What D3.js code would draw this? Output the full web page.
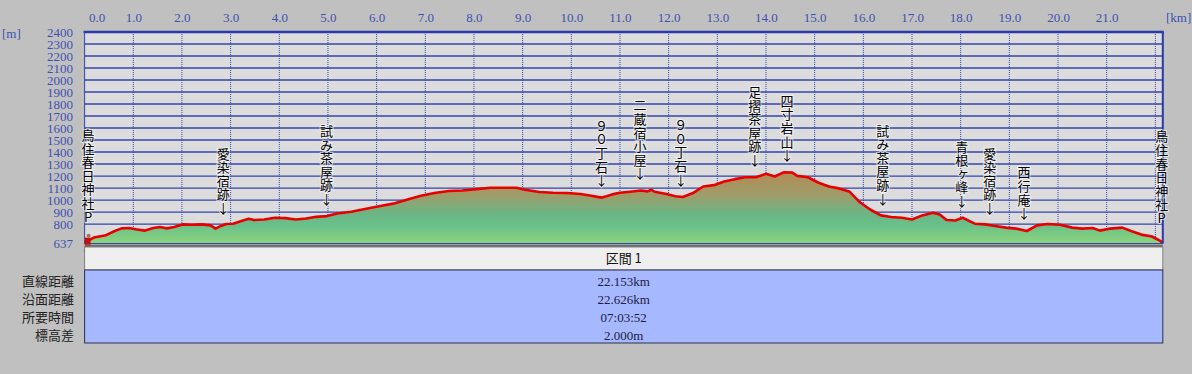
<!DOCTYPE html>
<html>
<head>
<meta charset="utf-8">
<script src="https://cdn.jsdelivr.net/npm/d3@7"></script>
<style>
  body { margin: 0; background: #c0c0c0; }
  svg { display: block; }
  .num { font-family: "Liberation Serif", serif; font-size: 13px; fill: #4050b0; }
  .mark { font-family: "Noto Sans CJK JP", sans-serif; font-size: 13px; fill: #000;
          writing-mode: vertical-rl; text-orientation: upright; }
</style>
</head>
<body>
<script>
// profile: distance [km] / elevation [m]
const profileKm = [0,0.19,0.44,0.62,0.76,0.91,1.05,1.23,1.41,1.55,
  1.69,1.84,2.01,2.19,2.41,2.59,2.69,2.80,2.91,3.05,
  3.19,3.37,3.48,3.69,3.91,4.12,4.34,4.55,4.76,4.98,
  5.19,5.48,5.76,6.05,6.34,6.62,6.91,7.19,7.48,7.76,
  8.05,8.34,8.62,8.87,9.05,9.34,9.62,9.91,10.19,10.41,
  10.62,10.84,11.0,11.21,11.43,11.57,11.64,11.71,11.93,12.14,
  12.29,12.5,12.71,12.93,13.14,13.36,13.57,13.79,14.0,14.18,
  14.36,14.54,14.64,14.86,15.07,15.29,15.5,15.71,15.93,16.14,
  16.36,16.57,16.79,17.0,17.21,17.43,17.57,17.71,17.89,18.04,
  18.14,18.29,18.5,18.71,18.93,19.14,19.36,19.57,19.79,20.04,
  20.29,20.5,20.71,20.86,21.07,21.32,21.5,21.71,21.93,22.11,
  22.153];
const profileElev = [645,687,707,742,764,767,756,745,767,775,
  764,775,797,794,797,789,762,784,800,803,
  822,844,833,838,852,849,838,846,860,866,
  888,902,926,948,970,1003,1036,1058,1075,1080,
  1091,1102,1102,1102,1086,1067,1061,1058,1050,1036,
  1020,1047,1060,1069,1080,1072,1086,1069,1053,1031,
  1025,1058,1113,1124,1154,1174,1190,1190,1218,1196,
  1231,1229,1201,1190,1146,1113,1097,1072,981,921,
  872,858,852,838,872,894,880,833,830,852,
  833,803,797,784,770,762,742,789,800,794,
  770,762,767,745,762,770,742,712,696,657,
  640];

// waypoints
const markNames = ["鳥住春日神社P","愛染宿跡","試み茶屋跡","９０丁石","二蔵宿小屋","９０丁石",
  "足摺茶屋跡","四寸岩山","試み茶屋跡","青根ヶ峰","愛染宿跡","西行庵","鳥住春日神社P"];
const markKm = [0.07,2.85,4.97,10.62,11.41,12.25,13.77,14.43,16.40,18.02,18.60,19.30,22.13];
const markArrow = [false,true,true,true,true,true,true,true,true,true,true,true,false];

// ticks
const xTicks = d3.range(0, 22);
const xGrid = d3.range(1, 23);
const yTicks = [637].concat(d3.range(800, 2401, 100));
const yGrid = d3.range(800, 2401, 100);

// summary table
const sectionTitle = "区間 1";
const rowLabels = ["直線距離","沿面距離","所要時間","標高差"];
const rowValues = ["22.153km","22.626km","07:03:52","2.000m"];

const W = 1192, H = 374;
const x = d3.scaleLinear().domain([0, 22.153]).range([84.6, 1162.8]);
const y = d3.scaleLinear().domain([637, 2400]).range([243.6, 32]);
const x0 = x.range()[0], x1 = x.range()[1];

const svg = d3.select("body").append("svg").attr("width", W).attr("height", H);

// gradient for the ground fill
const grad = svg.append("defs").append("linearGradient")
  .attr("id", "ground").attr("gradientUnits", "userSpaceOnUse")
  .attr("x1", 0).attr("x2", 0).attr("y1", y(637)).attr("y2", y(1240));
[[0, "#8ed47c"], [0.25, "#68c18a"], [0.42, "#6cb485"], [0.68, "#a09c68"], [1, "#b28a54"]].forEach(s =>
  grad.append("stop").attr("offset", s[0]).attr("stop-color", s[1]));

// plot background
svg.append("rect").attr("x", x0).attr("y", y(2400))
  .attr("width", x1 - x0).attr("height", y(637) - y(2400)).attr("fill", "#dcdcdc");

// grid
svg.append("g").selectAll("line").data(xGrid).join("line")
  .attr("x1", d => x(d)).attr("x2", d => x(d))
  .attr("y1", y(2400)).attr("y2", y(637))
  .attr("stroke", "#3444b0").attr("stroke-dasharray", "1,1");
svg.append("g").selectAll("line").data(yGrid).join("line")
  .attr("x1", x0).attr("x2", x1)
  .attr("y1", d => y(d)).attr("y2", d => y(d))
  .attr("stroke", "#3444a8").attr("stroke-width", 1.3);

const pts = profileKm.map((k, i) => [k, profileElev[i]]);
svg.append("path").datum(pts)
  .attr("fill", "url(#ground)")
  .attr("d", d3.area().x(d => x(d[0])).y0(y(637)).y1(d => y(d[1])));
svg.append("path").datum(pts)
  .attr("fill", "none").attr("stroke", "#e80000").attr("stroke-width", 2.6)
  .attr("stroke-linejoin", "round")
  .attr("d", d3.line().x(d => x(d[0])).y(d => y(d[1])));

// frame
svg.append("line").attr("x1", x0).attr("x2", x1).attr("y1", y(637)).attr("y2", y(637))
  .attr("stroke", "#3444a8").attr("stroke-width", 1.3);
svg.append("line").attr("x1", x0 - 1).attr("x2", x1 + 1).attr("y1", y(2400)).attr("y2", y(2400))
  .attr("stroke", "#2a3aa8").attr("stroke-width", 2.5);
svg.append("line").attr("x1", x0).attr("x2", x0).attr("y1", y(2400)).attr("y2", y(637))
  .attr("stroke", "#3444b0").attr("stroke-width", 1);
svg.append("line").attr("x1", x1).attr("x2", x1).attr("y1", y(2400)).attr("y2", y(637))
  .attr("stroke", "#2a3aa8").attr("stroke-width", 2);
svg.append("line").attr("x1", x0).attr("x2", x1).attr("y1", 246).attr("y2", 246)
  .attr("stroke", "#505050").attr("stroke-width", 1.5);

// axes
const xAxis = svg.append("g").attr("transform", "translate(0,21.7)")
  .call(d3.axisTop(x).tickValues(xTicks).tickSize(0).tickPadding(0).tickFormat(d3.format(".1f")));
xAxis.select(".domain").remove();
xAxis.selectAll("text").attr("class", "num").attr("fill", null)
  .attr("dx", d => d === 0 ? 12 : 0);
const yAxis = svg.append("g").attr("transform", "translate(73,0)")
  .call(d3.axisLeft(y).tickValues(yTicks).tickSize(0).tickPadding(0).tickFormat(d3.format("d")));
yAxis.select(".domain").remove();
yAxis.selectAll("text").attr("class", "num").attr("fill", null);
svg.append("text").attr("class", "num").attr("x", 2).attr("y", 38).text("[m]");
svg.append("text").attr("class", "num").attr("x", 1166).attr("y", 21.7).text("[km]");

// waypoint labels: one character per cell, stacked downward, ending in an arrow
const elevAt = d3.scaleLinear().domain(profileKm).range(profileElev);
const step = 13.6;
markNames.forEach((name, i) => {
  const chars = Array.from(name);
  if (markArrow[i]) chars.push("↓");
  const bottom = y(elevAt(markKm[i])) - (markArrow[i] ? 10 : 17);
  const top = bottom - chars.length * step;
  svg.append("g").attr("transform", `translate(${x(markKm[i])},0)`)
    .selectAll("text").data(chars).join("text")
    .attr("class", "mark")
    .attr("x", 0)
    .attr("y", (c, j) => top + j * step)
    .attr("stroke", "rgba(255,255,255,0.6)").attr("stroke-width", 2)
    .attr("paint-order", "stroke")
    .text(c => c);
});

// little hiker at the start
const hk = svg.append("g").attr("transform", `translate(${x(0)},${y(profileElev[0])})`);
hk.append("line").attr("x1", 2).attr("y1", 2).attr("x2", 0).attr("y2", 9).attr("stroke", "#7a5a3a").attr("stroke-width", 2);
hk.append("line").attr("x1", 4).attr("y1", 2).attr("x2", 7).attr("y2", 9).attr("stroke", "#7a5a3a").attr("stroke-width", 2);
hk.append("rect").attr("x", 0).attr("y", -5).attr("width", 6).attr("height", 7).attr("fill", "#c01010");
hk.append("circle").attr("cx", 4).attr("cy", -7).attr("r", 2).attr("fill", "#b07050");

// summary table
svg.append("rect").attr("x", x0).attr("y", 247).attr("width", x1 - x0).attr("height", 23)
  .attr("fill", "#efefef").attr("stroke", "#808080");
svg.append("text").attr("x", (x0 + x1) / 2).attr("y", 263).attr("text-anchor", "middle")
  .attr("font-family", "'Noto Sans CJK JP', sans-serif").attr("font-size", 13).attr("fill", "#111")
  .text(sectionTitle);
svg.append("rect").attr("x", x0).attr("y", 270).attr("width", x1 - x0).attr("height", 73)
  .attr("fill", "#a6b8ff").attr("stroke", "#303050");
const rowY = d3.scalePoint().domain(rowLabels).range([281, 335]);
svg.append("g").selectAll("text").data(rowLabels).join("text")
  .attr("x", 74).attr("y", d => rowY(d) + 5).attr("text-anchor", "end")
  .attr("font-family", "'Noto Sans CJK JP', sans-serif").attr("font-size", 13).attr("fill", "#222")
  .text(d => d);
svg.append("g").selectAll("text").data(rowValues).join("text")
  .attr("x", (x0 + x1) / 2).attr("y", (d, i) => rowY(rowLabels[i]) + 4.5).attr("text-anchor", "middle")
  .attr("font-family", "'Liberation Serif', serif").attr("font-size", 13).attr("fill", "#202040")
  .text(d => d);
</script>
</body>
</html>
